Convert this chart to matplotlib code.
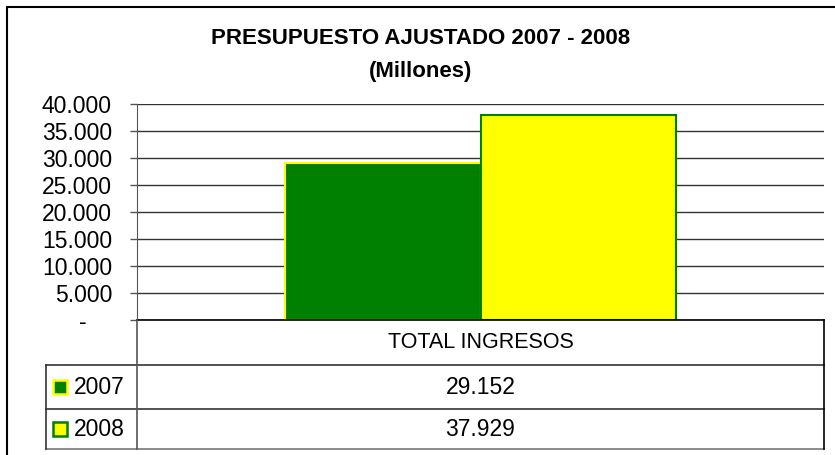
import matplotlib.pyplot as plt
from matplotlib.patches import Rectangle
from matplotlib.lines import Line2D

# datos
categorias = ["TOTAL INGRESOS"]
anios = ["2007", "2008"]
ingresos_2007 = [29152]
ingresos_2008 = [37929]
colores = ["#008000", "#FFFF00"]
bordes = ["#FFFF00", "#008000"]
yticks = [0, 5000, 10000, 15000, 20000, 25000, 30000, 35000, 40000]

plt.rcParams['font.family'] = ['Liberation Sans', 'DejaVu Sans']

W, H = 835, 455
fig = plt.figure(figsize=(W / 100, H / 100), dpi=100)

def fx(px):
    return px / W

def fy(py):
    return 1 - py / H

def fmt(v):
    if v == 0:
        return "-    "   # formato contable: guion desplazado
    return f"{v:,.0f}".replace(",", ".")

# borde exterior (cortado a la derecha y abajo)
fig.patches.append(Rectangle((fx(7), fy(470)), fx(860) - fx(7), fy(7) - fy(470),
                             transform=fig.transFigure, fill=False, ec="black", lw=1.5))

ax_left, ax_right, ax_top, ax_bot = 137, 824, 104, 320
ax = fig.add_axes([fx(ax_left), fy(ax_bot), fx(ax_right) - fx(ax_left), fy(ax_top) - fy(ax_bot)])

series = [ingresos_2007, ingresos_2008]
ancho = 0.285
for i, vals in enumerate(series):
    xs = [j + (i - 0.5) * ancho for j in range(len(categorias))]
    ax.bar(xs, vals, width=ancho, color=colores[i], edgecolor=bordes[i], linewidth=1.5, zorder=3)

ax.set_xlim(-0.5, len(categorias) - 0.5)
ax.set_ylim(0, 40000)
ax.set_yticks(yticks)
ax.set_yticklabels([fmt(v) for v in yticks], fontsize=16.5)
ax.tick_params(axis="y", length=5, width=1, color="#555555", pad=13)
ax.set_xticks([])
ax.grid(axis="y", color="#333333", linewidth=1, zorder=0)
for s in ["top", "right", "bottom"]:
    ax.spines[s].set_visible(False)
ax.spines["left"].set_color("#555555")

# titulo
fig.text(fx(421), fy(38), "PRESUPUESTO AJUSTADO 2007 - 2008", ha="center", va="center",
         fontsize=16, fontweight="bold")
fig.text(fx(421), fy(72), "(Millones)", ha="center", va="center", fontsize=16, fontweight="bold")

# tabla de datos
t_left, t_top, r1, r2, t_bot = 46, 320, 365, 409, 449

def hline(y, x0, x1, c="#333333"):
    fig.add_artist(Line2D([fx(x0), fx(x1)], [fy(y), fy(y)], color=c, lw=1.2, transform=fig.transFigure))

def vline(x, y0, y1, c="#333333"):
    fig.add_artist(Line2D([fx(x), fx(x)], [fy(y0), fy(y1)], color=c, lw=1.2, transform=fig.transFigure))

hline(t_top, ax_left, ax_right, "black")
hline(r1, t_left, ax_right)
hline(r2, t_left, ax_right)
hline(t_bot, t_left, ax_right, "#777777")
vline(ax_left, t_top, t_bot, "#555555")
vline(ax_right, t_top, t_bot, "black")
vline(t_left, r1, t_bot)

xc = (ax_left + ax_right) / 2
fig.text(fx(xc), fy((t_top + r1) / 2), categorias[0], ha="center", va="center", fontsize=15.5)

filas = [(r1 + r2) / 2, (r2 + t_bot) / 2]
for i, vals in enumerate(series):
    yc = filas[i]
    fig.patches.append(Rectangle((fx(53), fy(yc + 7)), fx(14), 14 / H, transform=fig.transFigure,
                                 fc=colores[i], ec=bordes[i], lw=1.8))
    fig.text(fx(74), fy(yc), anios[i], ha="left", va="center", fontsize=16.5)
    fig.text(fx(xc), fy(yc), fmt(vals[0]), ha="center", va="center", fontsize=16.5)

fig.savefig("out.png", dpi=100)
